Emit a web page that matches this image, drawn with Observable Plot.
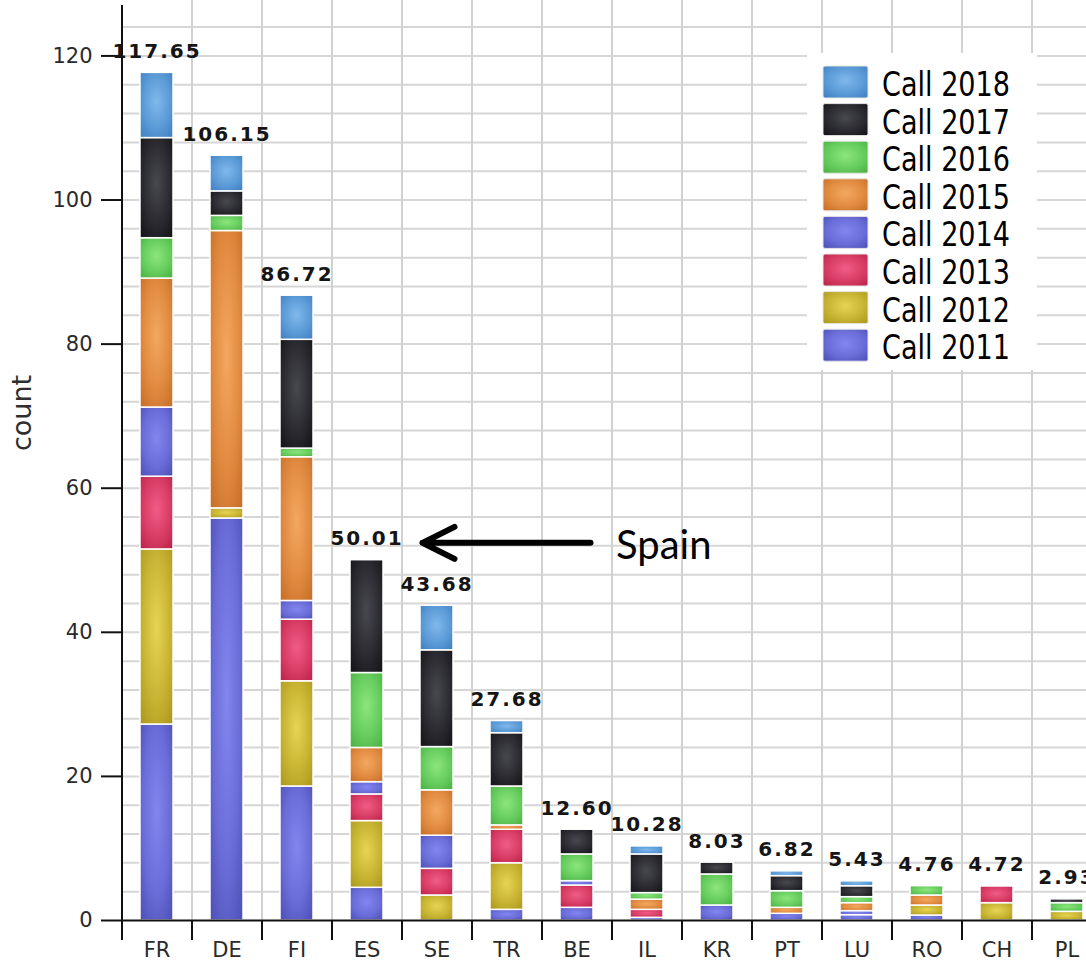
<!DOCTYPE html>
<html>
<head>
<meta charset="utf-8">
<script src="https://cdn.jsdelivr.net/npm/d3@7"></script>
<script src="https://cdn.jsdelivr.net/npm/@observablehq/plot@0.6"></script>
<style>
  html, body { margin: 0; padding: 0; background: #fff; }
  #wrap { position: relative; width: 1086px; height: 961px; overflow: hidden; }
  #wrap svg { display: block; }
  g[aria-label="totals"] text, g[font-size="20"][font-weight="bold"] text, text.total { letter-spacing: 2px; }
  g[aria-label^="y-axis"] line, g[aria-label^="y-axis"] path { stroke-width: 2; stroke: #111; }
  #legend { position: absolute; left: 807px; top: 53px; width: 230px; height: 317px; background: #fff; overflow: hidden; }
</style>
</head>
<body>
<div id="wrap"></div>
<script>
// ---- data ----
const countries = ["FR","DE","FI","ES","SE","TR","BE","IL","KR","PT","LU","RO","CH","PL"];
const totals    = [117.65,106.15,86.72,50.01,43.68,27.68,12.60,10.28,8.03,6.82,5.43,4.76,4.72,2.93];
const years = ["2011","2012","2013","2014","2015","2016","2017","2018"];
const call2011 = [27.2, 55.8, 18.6, 4.54, 0,    1.48, 1.76, 0.37, 0,    0,    0.74, 0.69, 0,    0];
const call2012 = [24.3, 1.4,  14.6, 9.26, 3.47, 6.47, 0,    0,    0,    0,    0,    1.39, 2.41, 1.2];
const call2013 = [10.1, 0,    8.55, 3.7,  3.7,  4.65, 3.1,  1.11, 0,    0,    0,    0,    2.31, 0];
const call2014 = [9.6,  0,    2.6,  1.7,  4.6,  0,    0.6,  0,    2.08, 0.93, 0.56, 0,    0,    0];
const call2015 = [17.9, 38.5, 19.95,4.75, 6.3,  0.6,  0,    1.42, 0,    0.83, 1.11, 1.39, 0,    0];
const call2016 = [5.6,  2.1,  1.2,  10.4, 6.0,  5.4,  3.71, 0.9,  4.31, 2.31, 0.83, 1.29, 0,    1.21];
const call2017 = [13.9, 3.4,  15.1, 15.66,13.43,7.4,  3.43, 5.37, 1.64, 2.09, 1.52, 0,    0,    0.52];
const call2018 = [9.05, 4.95, 6.12, 0,    6.18, 1.68, 0,    1.11, 0,    0.66, 0.67, 0,    0,    0];
const yTicks = [0, 20, 40, 60, 80, 100, 120];
const gridStep = 4;
const yMax = 127;
// annotation
const annLabel = ["Spain"];
const annCountry = ["ES"];
const annValue = [52.35];

// ---- style arrays ----
const colorLight = ["#8286ee","#e6d452","#f05c86","#8286ee","#f4a860","#8ce67c","#48484f","#80b8ec"];
const colorMid   = ["#6a6cd8","#c8b432","#d83c64","#6a6cd8","#e08a40","#66cc5e","#2a2a30","#5a9ad6"];
const colorDark  = ["#4a4db2","#a8941a","#b62048","#4a4db2","#c46a24","#46ae3e","#101015","#3e7cc0"];

// ---- build table ----
const series = [call2011, call2012, call2013, call2014, call2015, call2016, call2017, call2018];
const rows = [];
years.forEach((yr, j) => countries.forEach((c, i) => {
  if (series[j][i] > 0) rows.push({country: c, year: yr, value: series[j][i]});
}));
const totalRows = countries.map((c, i) => ({country: c, total: totals[i]}));
const annRows = annLabel.map((l, i) => ({label: l, country: annCountry[i], value: annValue[i]}));
const gridValues = d3.range(gridStep, yMax, gridStep);
const half = 35;

const chart = Plot.plot({
  width: 1086,
  height: 961,
  marginLeft: 121,
  marginRight: -15,
  marginTop: 5,
  marginBottom: 41,
  style: {fontFamily: "DejaVu Sans", fontSize: "21px", color: "#2a2a2a", background: "white", overflow: "hidden"},
  x: {domain: countries, paddingInner: 0.53, paddingOuter: 0.265, tickSize: 0, tickPadding: 22, label: null},
  y: {domain: [0, yMax], ticks: yTicks, tickSize: 20, tickPadding: 9, label: null},
  color: {domain: years, range: years.map(y => `url(#g${y})`)},
  marks: [
    Plot.ruleY(gridValues, {stroke: "#d6d6d6", strokeWidth: 2}),
    Plot.ruleX(countries.slice(1), {x: d => d, dx: -half, stroke: "#d2d2d2", strokeWidth: 2, insetTop: -5}),
    Plot.barY(rows, Plot.stackY({x: "country", y: "value", fill: "year", stroke: "white", strokeWidth: 1.5})),
    Plot.ruleY([0], {stroke: "#111", strokeWidth: 2}),
    Plot.ruleX(countries.slice(0, 1), {x: d => d, dx: -half, stroke: "#111", strokeWidth: 2, insetBottom: -20}),
    Plot.ruleX(countries.slice(1), {x: d => d, dx: -half, y1: 0, y2: 0, insetBottom: -20, stroke: "#111", strokeWidth: 2}),
    Plot.text(totalRows, {x: "country", y: "total", text: d => d.total.toFixed(2), dy: -15, lineAnchor: "bottom",
      fontWeight: "bold", fontSize: 20, fill: "#151515", ariaLabel: "totals"}),
    Plot.text(["count"], {frameAnchor: "left", textAnchor: "middle", text: d => d, rotate: -90, dx: -99, dy: -50,
      fontSize: 27, fill: "#2e2e2e"}),
    Plot.text(annRows, {x: "country", y: "value", text: "label", dx: 249, dy: 3, textAnchor: "start",
      fontSize: 40, fontFamily: "Lato, Open Sans, sans-serif", fill: "#000"})
  ]
});

// gradient defs
const svg = d3.select(chart);
const defs = svg.insert("defs", ":first-child");
years.forEach((y, j) => {
  const g = defs.append("radialGradient").attr("id", `g${y}`)
    .attr("cx", "0.5").attr("cy", "0.45").attr("r", "0.75");
  g.append("stop").attr("offset", "0%").attr("stop-color", colorLight[j]);
  g.append("stop").attr("offset", "55%").attr("stop-color", colorMid[j]);
  g.append("stop").attr("offset", "100%").attr("stop-color", colorDark[j]);
});

// letter spacing for the total labels
svg.selectAll("text").filter(function() {
  return totals.map(t => t.toFixed(2)).includes(this.textContent);
}).classed("total", true);

// annotation arrow, positioned through the plot's scales
const xs = chart.scale("x"), ys = chart.scale("y");
const ai = 0;
const cx = xs.apply(annCountry[ai]) + xs.bandwidth / 2;
const tipX = cx + 56, tailX = tipX + 168, ay = ys.apply(annValue[ai]);
svg.append("path")
  .attr("d", `M${tailX},${ay}L${tipX},${ay}M${tipX + 32},${ay - 16}L${tipX},${ay}L${tipX + 32},${ay + 16}`)
  .attr("fill", "none").attr("stroke", "#000").attr("stroke-width", 6)
  .attr("stroke-linecap", "round").attr("stroke-linejoin", "round");

document.getElementById("wrap").appendChild(chart);

// legend
const legend = d3.select("#wrap").append("div").attr("id", "legend")
  .append("svg").attr("width", 230).attr("height", 317);
const order = years.map((y, j) => j).reverse();
order.forEach((j, k) => {
  const gy = 13 + k * 37.6;
  legend.append("rect").attr("x", 16).attr("y", gy).attr("width", 45).attr("height", 32)
    .attr("rx", 2).attr("fill", `url(#g${years[j]})`).attr("stroke", "#e4e4e4").attr("stroke-width", 1);
  legend.append("text").attr("x", 75).attr("y", gy + 30).text(`Call ${years[j]}`)
    .attr("font-family", "DejaVu Sans Condensed, DejaVu Sans, sans-serif")
    .attr("font-size", 33).attr("textLength", 128).attr("lengthAdjust", "spacingAndGlyphs")
    .attr("fill", "#000");
});
</script>
</body>
</html>
